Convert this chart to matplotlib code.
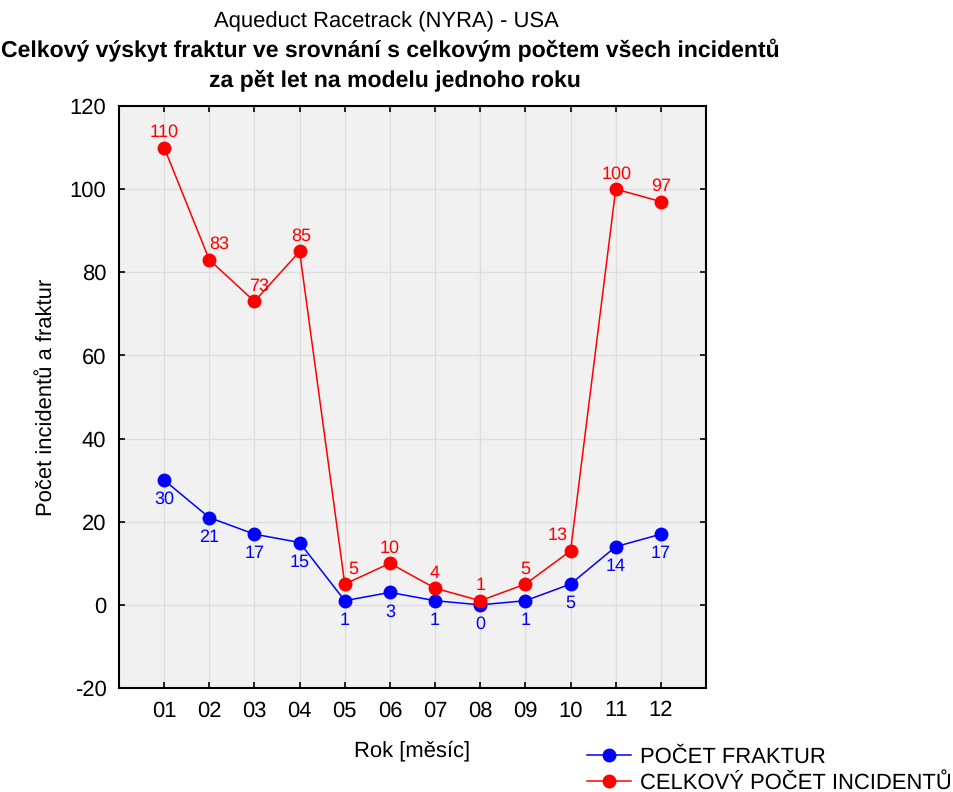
import matplotlib
matplotlib.use('Agg')
import matplotlib.pyplot as plt
import numpy as np

plt.rcParams['font.family'] = ['Liberation Sans', 'DejaVu Sans']
plt.rcParams['axes.unicode_minus'] = False
plt.rcParams['text.hinting'] = 'none'
plt.rcParams['text.hinting_factor'] = 1

# data
months = ['01', '02', '03', '04', '05', '06', '07', '08', '09', '10', '11', '12']
fractures = [30, 21, 17, 15, 1, 3, 1, 0, 1, 5, 14, 17]
incidents = [110, 83, 73, 85, 5, 10, 4, 1, 5, 13, 100, 97]

# small horizontal nudges (in points) for the red value labels
red_dx = [0, 7, 3, 1, 6, 0, 0, 0, 0, -9, 1, 0]

fig = plt.figure(figsize=(9.54, 7.92), dpi=100)
ax = fig.add_axes([0.1247, 0.1313, 0.6154, 0.7349])
ax.set_facecolor('#f1f1f1')

x = np.arange(1, len(months) + 1)
ax.plot(x, fractures, color='blue', marker='o', markersize=9, linewidth=1.1,
        label='POČET FRAKTUR', zorder=3)
ax.plot(x, incidents, color='red', marker='o', markersize=9, linewidth=1.1,
        label='CELKOVÝ POČET INCIDENTŮ', zorder=4)

for xi, v in zip(x, fractures):
    ax.annotate(str(v), xy=(xi, v), xytext=(0, -14), textcoords='offset points',
                ha='center', va='center', color='blue', fontsize=13)
for xi, v, dx in zip(x, incidents, red_dx):
    ax.annotate(str(v), xy=(xi, v), xytext=(dx, 11), textcoords='offset points',
                ha='center', va='center', color='red', fontsize=13)

ax.set_xlim(0, 13)
ax.set_ylim(-20, 120)
ax.set_xticks(x)
ax.set_xticklabels(months)
ax.set_yticks(np.arange(-20, 121, 20))
ax.tick_params(direction='in', top=True, right=True, labelsize=16, length=4, width=1.2, pad=9)
ax.grid(True, color='#dedede', linewidth=1)
ax.set_axisbelow(True)
for s in ax.spines.values():
    s.set_linewidth(1.5)

ax.set_xlabel('Rok [měsíc]', fontsize=16, labelpad=14)
ax.set_ylabel('Počet incidentů a fraktur', fontsize=16, labelpad=10)

fig.text(0.405, 0.972, 'Aqueduct Racetrack (NYRA) - USA', ha='center', va='center', fontsize=16)
fig.text(0.409, 0.937, 'Celkový výskyt fraktur ve srovnání s celkovým počtem všech incidentů',
         ha='center', va='center', fontsize=16.3, fontweight='bold')
fig.text(0.414, 0.899, 'za pět let na modelu jednoho roku', ha='center', va='center',
         fontsize=16.3, fontweight='bold')

fig.legend(loc='upper left', bbox_to_anchor=(0.615, 0.057), frameon=False, fontsize=16,
           handlelength=2.0, handletextpad=0.4, labelspacing=0.25, borderpad=0.0,
           borderaxespad=0.0)

plt.savefig('out.png', dpi=100)
